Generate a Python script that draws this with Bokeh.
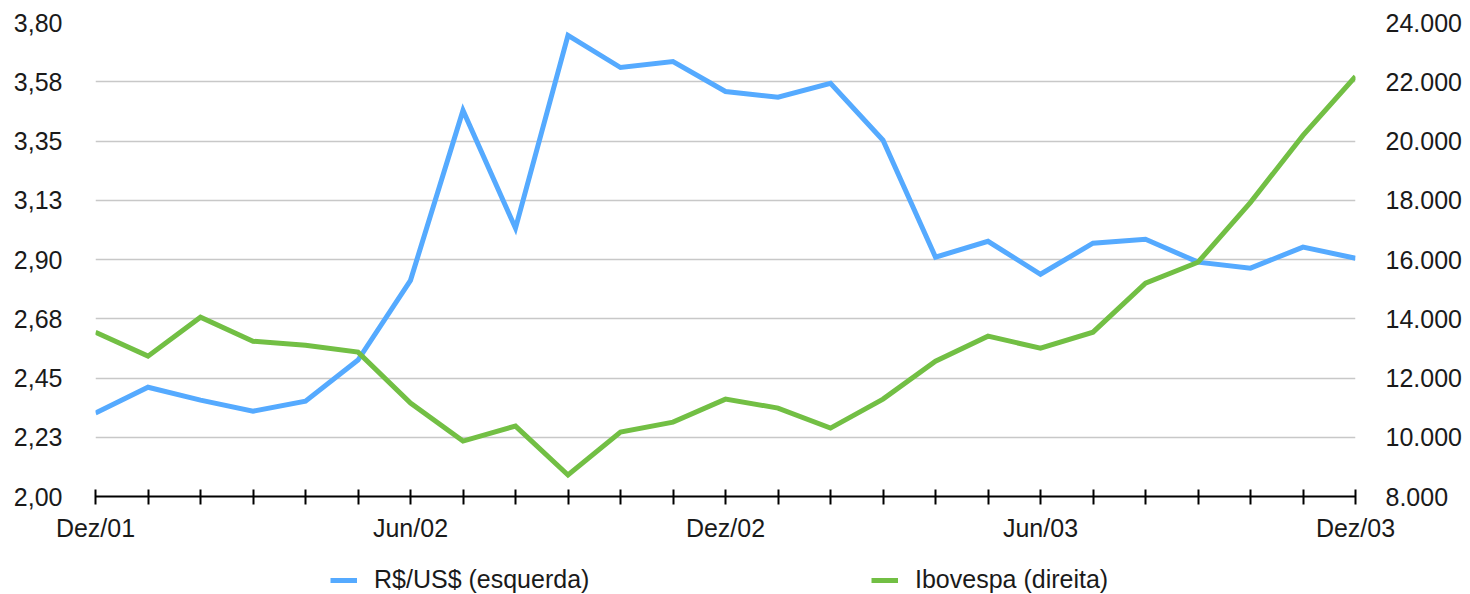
from bokeh.plotting import figure
from bokeh.layouts import column
from bokeh.models import Range1d, LinearAxis, FixedTicker, Legend, LegendItem
from bokeh.embed import file_html
from bokeh.resources import INLINE

months = ["Dez/01", "Jan/02", "Fev/02", "Mar/02", "Abr/02", "Mai/02", "Jun/02",
          "Jul/02", "Ago/02", "Set/02", "Out/02", "Nov/02", "Dez/02",
          "Jan/03", "Fev/03", "Mar/03", "Abr/03", "Mai/03", "Jun/03",
          "Jul/03", "Ago/03", "Set/03", "Out/03", "Nov/03", "Dez/03"]
shown_months = ["Dez/01", "Jun/02", "Dez/02", "Jun/03", "Dez/03"]

brl_usd = [2.317, 2.415, 2.366, 2.324, 2.362, 2.518, 2.821, 3.466, 3.019, 3.751,
           3.629, 3.652, 3.538, 3.516, 3.569, 3.353, 2.909, 2.969, 2.844, 2.962,
           2.977, 2.890, 2.867, 2.947, 2.905]
ibovespa = [13547, 12738, 14053, 13243, 13108, 12873, 11153, 9871, 10377, 8725,
            10175, 10512, 11288, 10985, 10310, 11288, 12569, 13412, 13007, 13547,
            15199, 15907, 17930, 20190, 22179]

left_ticks = [2.0, 2.225, 2.45, 2.675, 2.9, 3.125, 3.35, 3.575, 3.8]
left_labels = ["2,00", "2,23", "2,45", "2,68", "2,90", "3,13", "3,35", "3,58", "3,80"]
right_ticks = [8000, 10000, 12000, 14000, 16000, 18000, 20000, 22000, 24000]
right_labels = ["8.000", "10.000", "12.000", "14.000", "16.000", "18.000", "20.000", "22.000", "24.000"]

series_names = ["R$/US$ (esquerda)", "Ibovespa (direita)"]

FONT = "Liberation Sans"
TXT = "#1a1a1a"
BLUE = "#55aaff"
GREEN = "#72bf44"
LW = 5

x = list(range(len(months)))

p = figure(width=1470, height=548, output_backend="svg", toolbar_location=None,
           x_range=Range1d(0, len(months) - 1), y_range=Range1d(2.0, 3.8),
           min_border_left=95, min_border_right=115, min_border_top=22, min_border_bottom=52,
           x_axis_location=None, y_axis_location=None)
p.outline_line_color = None
p.background_fill_color = "white"
p.border_fill_color = "white"

p.extra_y_ranges = {"ibov": Range1d(8000, 24000)}

# bottom axis
xaxis = LinearAxis(ticker=FixedTicker(ticks=x))
xaxis.major_label_overrides = {i: (m if m in shown_months else "") for i, m in enumerate(months)}
xaxis.axis_line_color = "black"
xaxis.axis_line_width = 2
xaxis.major_tick_line_color = "black"
xaxis.major_tick_line_width = 2
xaxis.major_tick_in = 7
xaxis.major_tick_out = 8
xaxis.minor_tick_line_color = None
xaxis.major_label_standoff = 9
xaxis.major_label_text_font = FONT
xaxis.major_label_text_font_size = "25px"
xaxis.major_label_text_color = TXT
p.add_layout(xaxis, "below")

# left axis
yaxis = LinearAxis(ticker=FixedTicker(ticks=left_ticks))
yaxis.major_label_overrides = dict(zip(left_ticks, left_labels))
yaxis.axis_line_color = None
yaxis.major_tick_line_color = None
yaxis.minor_tick_line_color = None
yaxis.major_tick_out = 0
yaxis.major_tick_in = 0
yaxis.major_label_standoff = 33
yaxis.major_label_text_font = FONT
yaxis.major_label_text_font_size = "25px"
yaxis.major_label_text_color = TXT
p.add_layout(yaxis, "left")

# right axis
raxis = LinearAxis(y_range_name="ibov", ticker=FixedTicker(ticks=right_ticks))
raxis.major_label_overrides = dict(zip(right_ticks, right_labels))
raxis.axis_line_color = None
raxis.major_tick_line_color = None
raxis.minor_tick_line_color = None
raxis.major_tick_out = 0
raxis.major_tick_in = 0
raxis.major_label_standoff = 30
raxis.major_label_text_font = FONT
raxis.major_label_text_font_size = "25px"
raxis.major_label_text_color = TXT
p.add_layout(raxis, "right")

p.xgrid.visible = False
p.ygrid.ticker = FixedTicker(ticks=left_ticks)
p.ygrid.grid_line_color = "#c8c8c8"
p.ygrid.grid_line_width = 1.5

p.line(x, brl_usd, line_color=BLUE, line_width=LW, line_join="miter")
p.line(x, ibovespa, y_range_name="ibov", line_color=GREEN, line_width=LW, line_join="miter")

# legend strip below the chart (its frame is aligned with the chart frame)
lp = figure(width=1470, height=46, output_backend="svg", toolbar_location=None,
            x_range=Range1d(0, 1), y_range=Range1d(0, 1),
            min_border=0, x_axis_location=None, y_axis_location=None)
lp.outline_line_color = None
lp.xgrid.visible = False
lp.ygrid.visible = False
# legend-only renderers, kept outside the visible range
lb = lp.line([5, 6], [5, 5], line_color=BLUE, line_width=LW)
lg_ = lp.line([5, 6], [5, 5], line_color=GREEN, line_width=LW)


def make_legend(label, renderer, loc):
    lg = Legend(items=[LegendItem(label=label, renderers=[renderer])], location=loc)
    lg.border_line_color = None
    lg.background_fill_alpha = 0
    lg.padding = 0
    lg.margin = 0
    lg.glyph_width = 27
    lg.glyph_height = 20
    lg.label_standoff = 17
    lg.label_text_font = FONT
    lg.label_text_font_size = "25px"
    lg.label_text_color = TXT
    return lg


lp.add_layout(make_legend(series_names[0], lb, (235, 0)))
lp.add_layout(make_legend(series_names[1], lg_, (776, 0)))

layout = column(p, lp, spacing=0)
open("out.html", "w").write(file_html(layout, INLINE))
